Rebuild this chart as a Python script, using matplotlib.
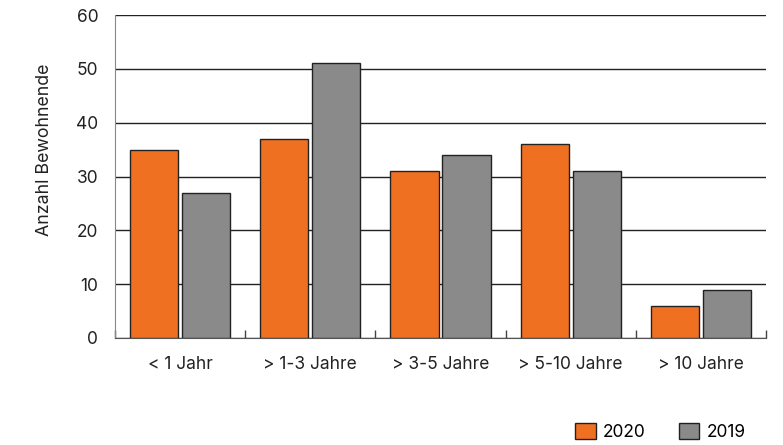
import matplotlib.pyplot as plt
import numpy as np
from matplotlib.patches import Patch

# Daten
kategorien = ["< 1 Jahr", "> 1-3 Jahre", "> 3-5 Jahre", "> 5-10 Jahre", "> 10 Jahre"]
werte_2020 = [35, 37, 31, 36, 6]
werte_2019 = [27, 51, 34, 31, 9]
y_ticks = [0, 10, 20, 30, 40, 50, 60]

ORANGE = "#F07022"
GRAU = "#8A8A8A"
TEXT = "#222222"

plt.rcParams['font.family'] = ['Inter', 'DejaVu Sans']

fig = plt.figure(figsize=(7.83, 4.45), dpi=100)
ax = fig.add_axes([115 / 783, 1 - 338 / 445, 651 / 783, 323 / 445])

x = np.arange(len(kategorien))
breite = 0.37
ax.bar(x - 0.2, werte_2020, breite, color=ORANGE, edgecolor=TEXT, linewidth=1.0, zorder=3)
ax.bar(x + 0.2, werte_2019, breite, color=GRAU, edgecolor=TEXT, linewidth=1.0, zorder=3)

ax.set_xlim(-0.5, len(kategorien) - 0.5)
ax.set_ylim(0, 60)
ax.set_yticks(y_ticks)
ax.yaxis.grid(True, color="#222222", linewidth=1.0, zorder=0)
ax.set_axisbelow(True)

# Gruppengrenzen als kleine Striche
ax.set_xticks(x)
ax.set_xticklabels(kategorien, fontsize=12.5, color=TEXT)
ax.tick_params(axis="x", which="major", length=0, pad=13)
ax.set_xticks(np.arange(-0.5, len(kategorien)), minor=True)
ax.tick_params(axis="x", which="minor", direction="in", length=6, color="#444444", width=1)
ax.tick_params(axis="y", length=0, pad=12, labelsize=12.5, labelcolor=TEXT)

for s in ["top", "right"]:
    ax.spines[s].set_visible(False)
ax.spines["left"].set_color("#888888")
ax.spines["bottom"].set_color("#555555")

fig.text(45 / 783, 1 - 150 / 445, "Anzahl Bewohnende", rotation=90, fontsize=12.8,
         color=TEXT, ha="center", va="center")

handles = [Patch(facecolor=ORANGE, edgecolor=TEXT, label="2020"),
           Patch(facecolor=GRAU, edgecolor=TEXT, label="2019")]
fig.legend(handles=handles, loc="lower left", bbox_to_anchor=(575 / 783, 4 / 445), ncol=2,
           frameon=False, fontsize=12.5, handlelength=1.2, handleheight=1.05,
           handletextpad=0.4, columnspacing=1.9, borderpad=0, borderaxespad=0)

fig.savefig("out.png", dpi=100)
